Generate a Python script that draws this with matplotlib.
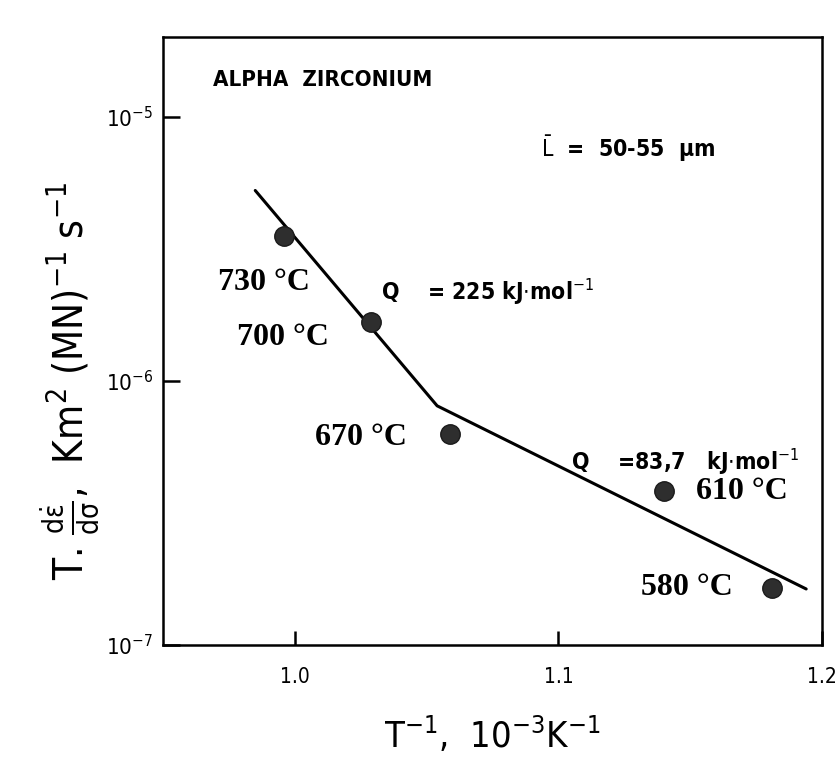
import matplotlib
matplotlib.use('Agg')
import matplotlib.pyplot as plt
from matplotlib.ticker import FixedLocator, NullLocator

# Fonts: condensed sans for the scanned lettering, serif bold for the temperature labels
plt.rcParams['font.family'] = ['DejaVu Sans']
plt.rcParams['font.stretch'] = 'condensed'
plt.rcParams['mathtext.fontset'] = 'dejavusans'

# Data
inv_T = [0.996, 1.029, 1.059, 1.140, 1.181]          # 10^-3 K^-1
rate = [3.54e-6, 1.67e-6, 6.30e-7, 3.83e-7, 1.64e-7]  # T.de/ds
temps = ['730 °C', '700 °C', '670 °C', '610 °C', '580 °C']

fit_x = [0.985, 1.054, 1.194]
fit_y = [5.25e-6, 8.04e-7, 1.63e-7]

x_ticks = [1.0, 1.1, 1.2]
x_ticklabels = ['1.0', '1.1', '1.2']
y_ticks = [1e-7, 1e-6, 1e-5]
y_ticklabels = [r'10$^{-7}$', r'10$^{-6}$', r'10$^{-5}$']

fig = plt.figure(figsize=(8.38, 7.69), dpi=100)
ax = fig.add_axes([0.1945, 0.1612, 0.7864, 0.7907])

ax.plot(fit_x, fit_y, color='black', linewidth=2.2, solid_capstyle='round', zorder=2)
ax.plot(inv_T, rate, linestyle='none', marker='o', markersize=14,
        markerfacecolor='#2e2e2e', markeredgecolor='#1a1a1a', zorder=3)

ax.set_yscale('log')
ax.set_xlim(0.95, 1.2)
ax.set_ylim(1e-7, 2.0e-5)

ax.xaxis.set_major_locator(FixedLocator(x_ticks))
ax.set_xticklabels(x_ticklabels)
ax.yaxis.set_major_locator(FixedLocator(y_ticks))
ax.yaxis.set_minor_locator(NullLocator())
ax.set_yticklabels(y_ticklabels)
ax.tick_params(axis='both', direction='in', width=1.8, colors='black')
ax.tick_params(axis='y', length=12, pad=7, labelsize=16)
ax.tick_params(axis='x', length=10, pad=16, labelsize=15)
for s in ax.spines.values():
    s.set_linewidth(1.8)

ax.set_xlabel(r'T$^{-1}$,  10$^{-3}$K$^{-1}$', fontsize=26, labelpad=20)
fig.text(0.083, 0.505,
         r'T. $\mathregular{\frac{d\dot{\varepsilon}}{d\sigma}}$,  Km$^{2}$ (MN)$^{-1}$ s$^{-1}$',
         rotation=90, fontsize=29, ha='center', va='center')

# Annotations in the plot
ax.text(0.076, 0.929, 'ALPHA  ZIRCONIUM', transform=ax.transAxes,
        fontsize=16, fontweight='bold', va='center')
ax.text(0.573, 0.817, r'$\bar{\mathrm{L}}$  =  50-55  μm', transform=ax.transAxes,
        fontsize=16.5, fontweight='bold', va='center')
ax.text(0.331, 0.581, r'Q    = 225 kJ$\cdot$mol$^{-1}$', transform=ax.transAxes,
        fontsize=16.5, fontweight='bold', va='center')
ax.text(0.619, 0.301, r'Q    =83,7   kJ$\cdot$mol$^{-1}$', transform=ax.transAxes,
        fontsize=16.5, fontweight='bold', va='center')

label_pos = [(0.083, 0.597), (0.113, 0.505), (0.230, 0.342), (0.809, 0.252), (0.725, 0.094)]
for (lx, ly), t in zip(label_pos, temps):
    ax.text(lx, ly, t, transform=ax.transAxes, fontsize=23, fontweight='bold',
            family='Liberation Serif', stretch='normal', va='center', ha='left')

fig.savefig('out.png', dpi=100)
